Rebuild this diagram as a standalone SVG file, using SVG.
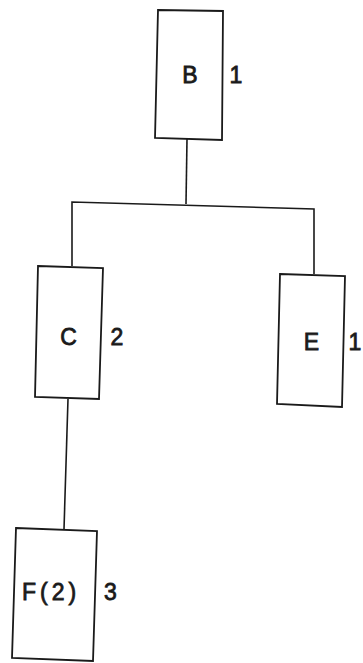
<svg xmlns="http://www.w3.org/2000/svg" width="363" height="663" viewBox="0 0 363 663">
  <style>
    .box { fill: #fff; stroke: #1a1a1a; stroke-width: 1.8; }
    .edge { fill: none; stroke: #1a1a1a; stroke-width: 1.6; }
    .lbl { font-family: "Liberation Sans", Arial, sans-serif; font-size: 23px; fill: #1a1a1a; stroke: #1a1a1a; stroke-width: 0.8; text-anchor: middle; }
  </style>
  <rect width="363" height="663" fill="#fff"/>
  <g id="edges">
    <polyline class="edge" points="187,139 186,204"/>
    <polyline class="edge" points="72,266 72,202 314,209 314,274"/>
    <polyline class="edge" points="68,399 64,529"/>
  </g>
  <g id="node-B">
    <polygon class="box" points="158,10 223,11 222,140 155,138"/>
    <text class="lbl" x="190" y="83">B</text>
    <text class="lbl" x="236" y="83">1</text>
  </g>
  <g id="node-C">
    <polygon class="box" points="38,266 103,268 99,399 35,397"/>
    <text class="lbl" x="68.5" y="345">C</text>
    <text class="lbl" x="117" y="345">2</text>
  </g>
  <g id="node-E">
    <polygon class="box" points="280,274 345,276 342,407 277,404"/>
    <text class="lbl" x="311.5" y="350">E</text>
    <text class="lbl" x="355" y="350">1</text>
  </g>
  <g id="node-F">
    <polygon class="box" points="16,528 97,531 93,661 12,658"/>
    <text class="lbl" x="22" y="600" style="text-anchor:start;letter-spacing:4px">F(2)</text>
    <text class="lbl" x="110.5" y="600">3</text>
  </g>
</svg>
